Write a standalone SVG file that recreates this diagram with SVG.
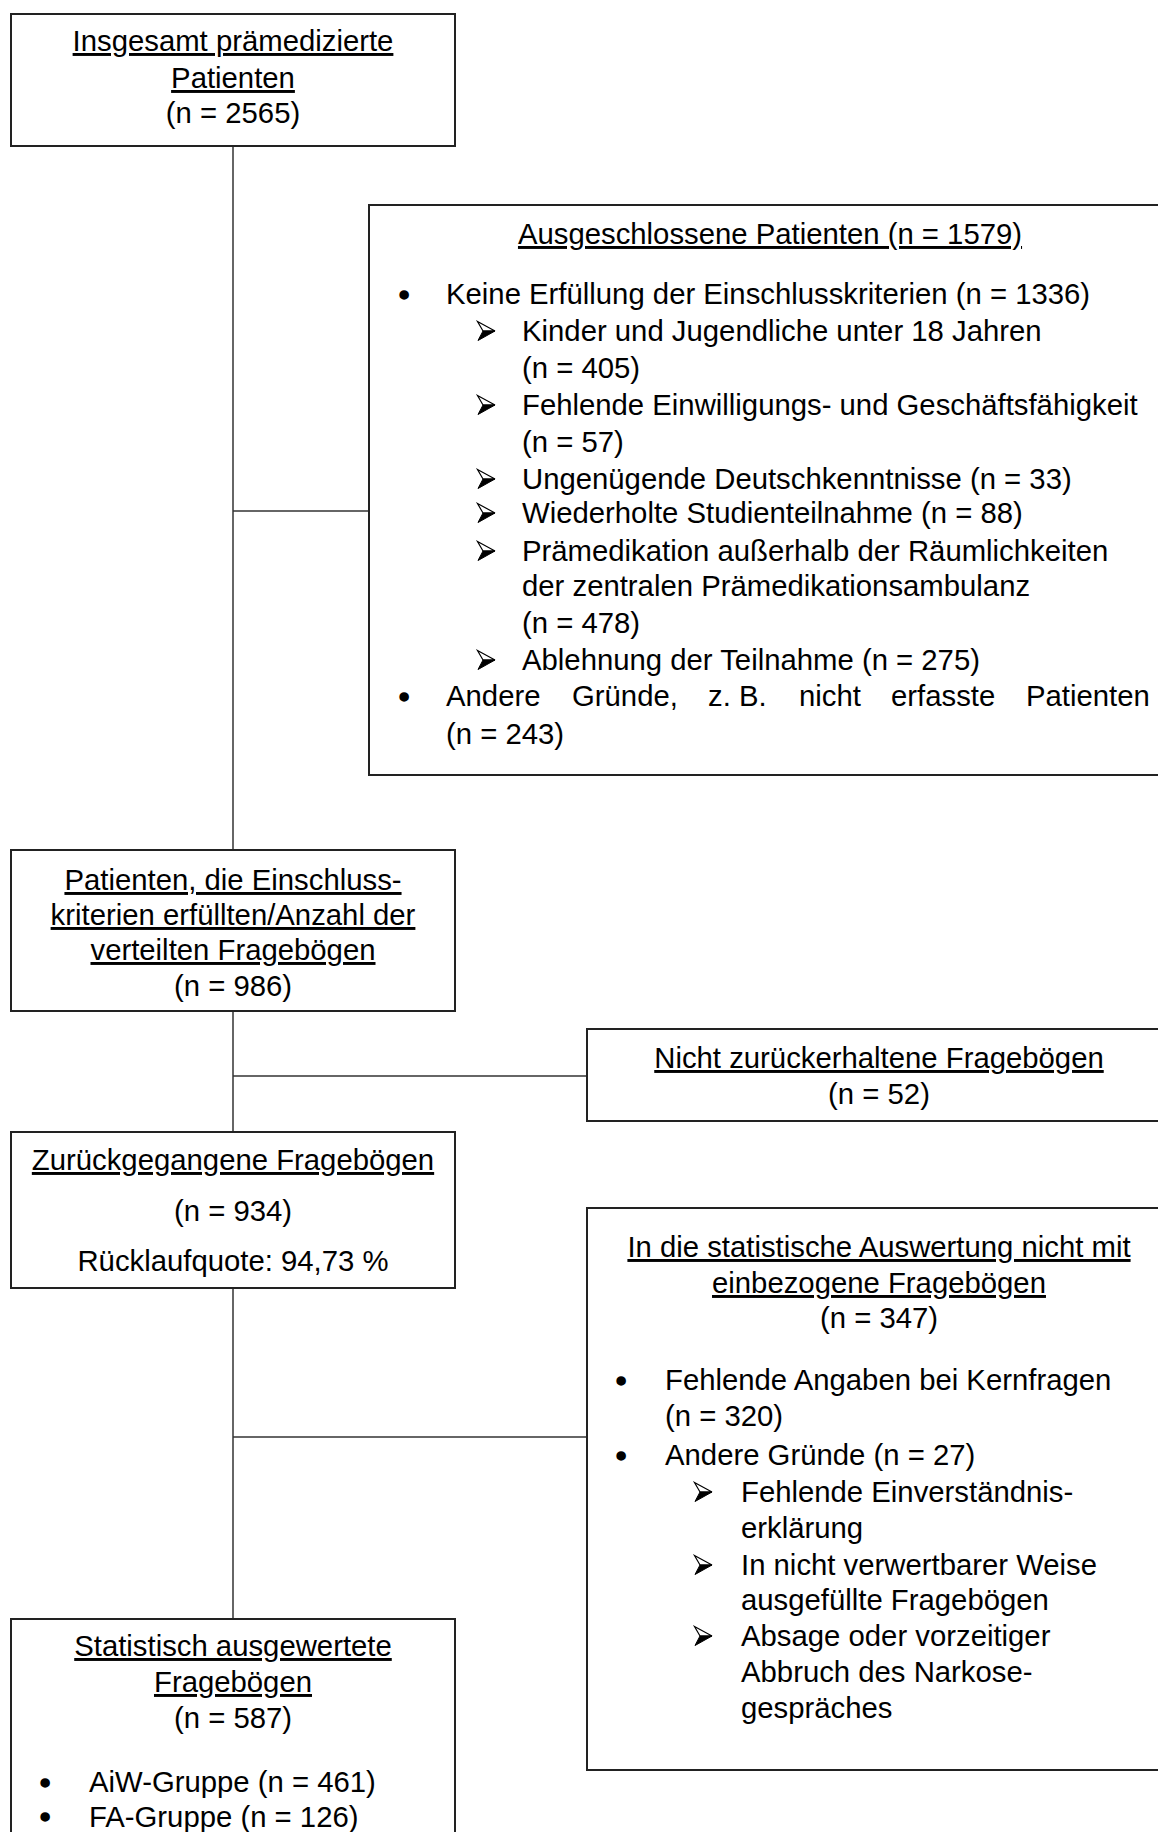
<svg xmlns="http://www.w3.org/2000/svg" width="1158" height="1832" viewBox="0 0 1158 1832">
<style>
.box{fill:#fff;stroke:#222;stroke-width:2}
.con{stroke:#333;stroke-width:1.5;fill:none}
text{font-family:"Liberation Sans",Arial,sans-serif;font-size:29.3px;fill:#000}
text.b{stroke:#000;stroke-width:1.6px}
.c{text-anchor:middle}
.u{text-decoration:underline;text-decoration-skip-ink:none;text-decoration-thickness:2.5px;text-underline-offset:3px}
</style>
<defs>
<symbol id="arrow" viewBox="0 0 19 20" overflow="visible">
<path d="M0.5,0.5 L18,10 L6,10 Z" fill="#fff" stroke="#000" stroke-width="1.2" stroke-linejoin="miter"/>
<path d="M6,10 L18,10 L1,19.5 Z" fill="#000" stroke="#000" stroke-width="1"/>
</symbol>
</defs>
<rect width="1158" height="1832" fill="#fff"/>
<g id="connectors">
<line class="con" x1="233" y1="146" x2="233" y2="850"/>
<line class="con" x1="233" y1="511" x2="369" y2="511"/>
<line class="con" x1="233" y1="1011" x2="233" y2="1132"/>
<line class="con" x1="233" y1="1076" x2="587" y2="1076"/>
<line class="con" x1="233" y1="1288" x2="233" y2="1619"/>
<line class="con" x1="233" y1="1437" x2="587" y2="1437"/>
</g>
<g id="node-total">
<rect class="box" x="11" y="14" width="444" height="132"/>
<text class="c u" x="233" y="51">Insgesamt prämedizierte</text>
<text class="c u" x="233" y="88">Patienten</text>
<text class="c" x="233" y="123">(n = 2565)</text>
</g>
<g id="node-excluded">
<rect class="box" x="369" y="205" width="802" height="570"/>
<text class="c u" x="770" y="244">Ausgeschlossene Patienten (n = 1579)</text>
<text class="b" x="399" y="305">•</text>
<text x="446" y="304">Keine Erfüllung der Einschlusskriterien (n = 1336)</text>
<use href="#arrow" x="477" y="321" width="19" height="20"/>
<text x="522" y="341">Kinder und Jugendliche unter 18 Jahren</text>
<text x="522" y="378">(n = 405)</text>
<use href="#arrow" x="477" y="395" width="19" height="20"/>
<text x="522" y="415">Fehlende Einwilligungs- und Geschäftsfähigkeit</text>
<text x="522" y="452">(n = 57)</text>
<use href="#arrow" x="477" y="469" width="19" height="20"/>
<text x="522" y="489">Ungenügende Deutschkenntnisse (n = 33)</text>
<use href="#arrow" x="477" y="503" width="19" height="20"/>
<text x="522" y="523">Wiederholte Studienteilnahme (n = 88)</text>
<use href="#arrow" x="477" y="541" width="19" height="20"/>
<text x="522" y="561">Prämedikation außerhalb der Räumlichkeiten</text>
<text x="522" y="596">der zentralen Prämedikationsambulanz</text>
<text x="522" y="633">(n = 478)</text>
<use href="#arrow" x="477" y="650" width="19" height="20"/>
<text x="522" y="670">Ablehnung der Teilnahme (n = 275)</text>
<text class="b" x="399" y="707">•</text>
<text x="446" y="706">Andere</text>
<text x="572" y="706">Gründe,</text>
<text x="708" y="706">z. B.</text>
<text x="799" y="706">nicht</text>
<text x="891" y="706">erfasste</text>
<text x="1026" y="706">Patienten</text>
<text x="446" y="744">(n = 243)</text>
</g>
<g id="node-included">
<rect class="box" x="11" y="850" width="444" height="161"/>
<text class="c u" x="233" y="890">Patienten, die Einschluss-</text>
<text class="c u" x="233" y="925">kriterien erfüllten/Anzahl der</text>
<text class="c u" x="233" y="960">verteilten Fragebögen</text>
<text class="c" x="233" y="996">(n = 986)</text>
</g>
<g id="node-notreturned">
<rect class="box" x="587" y="1029" width="584" height="92"/>
<text class="c u" x="879" y="1068">Nicht zurückerhaltene Fragebögen</text>
<text class="c" x="879" y="1104">(n = 52)</text>
</g>
<g id="node-returned">
<rect class="box" x="11" y="1132" width="444" height="156"/>
<text class="c u" x="233" y="1170">Zurückgegangene Fragebögen</text>
<text class="c" x="233" y="1221">(n = 934)</text>
<text class="c" x="233" y="1271">Rücklaufquote: 94,73 %</text>
</g>
<g id="node-notevaluated">
<rect class="box" x="587" y="1208" width="584" height="562"/>
<text class="c u" x="879" y="1257">In die statistische Auswertung nicht mit</text>
<text class="c u" x="879" y="1293">einbezogene Fragebögen</text>
<text class="c" x="879" y="1328">(n = 347)</text>
<text class="b" x="616" y="1391">•</text>
<text x="665" y="1390">Fehlende Angaben bei Kernfragen</text>
<text x="665" y="1426">(n = 320)</text>
<text class="b" x="616" y="1466">•</text>
<text x="665" y="1465">Andere Gründe (n = 27)</text>
<use href="#arrow" x="694" y="1482" width="19" height="20"/>
<text x="741" y="1502">Fehlende Einverständnis-</text>
<text x="741" y="1538">erklärung</text>
<use href="#arrow" x="694" y="1555" width="19" height="20"/>
<text x="741" y="1575">In nicht verwertbarer Weise</text>
<text x="741" y="1610">ausgefüllte Fragebögen</text>
<use href="#arrow" x="694" y="1626" width="19" height="20"/>
<text x="741" y="1646">Absage oder vorzeitiger</text>
<text x="741" y="1682">Abbruch des Narkose-</text>
<text x="741" y="1718">gespräches</text>
</g>
<g id="node-evaluated">
<rect class="box" x="11" y="1619" width="444" height="260"/>
<text class="c u" x="233" y="1656">Statistisch ausgewertete</text>
<text class="c u" x="233" y="1692">Fragebögen</text>
<text class="c" x="233" y="1728">(n = 587)</text>
<text class="b" x="40" y="1793">•</text>
<text x="89" y="1792">AiW-Gruppe (n = 461)</text>
<text class="b" x="40" y="1827">•</text>
<text x="89" y="1827">FA-Gruppe (n = 126)</text>
</g>
</svg>
